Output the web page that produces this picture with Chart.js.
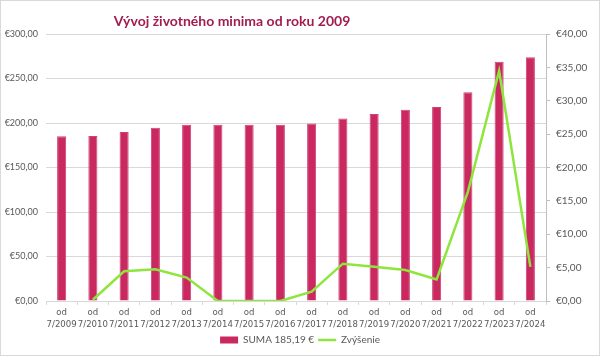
<!DOCTYPE html>
<html>
<head>
<meta charset="utf-8">
<script src="https://cdn.jsdelivr.net/npm/chart.js@4.4.1/dist/chart.umd.min.js"></script>
<style>
html,body{margin:0;padding:0;background:#fff;}
#wrap{width:600px;height:356px;box-sizing:border-box;border:1px solid #d9d9d9;position:relative;}
canvas{display:block;}
</style>
</head>
<body>
<div id="wrap"><canvas id="c" width="598" height="354"></canvas></div>
<script>
const titleText = 'Vývoj životného minima od roku 2009';
const categories = ['od|7/2009','od|7/2010','od|7/2011','od|7/2012','od|7/2013','od|7/2014','od|7/2015','od|7/2016','od|7/2017','od|7/2018','od|7/2019','od|7/2020','od|7/2021','od|7/2022','od|7/2023','od|7/2024'];
const sumaLabel = 'SUMA 185,19 €';
const sumaValues = [185.19,185.38,189.83,194.58,198.09,198.09,198.09,198.09,199.48,205.07,210.20,214.83,218.06,234.42,268.88,273.99];
const increaseLabel = 'Zvýšenie';
const increaseValues = [null,0.19,4.45,4.75,3.51,0,0,0,1.39,5.59,5.13,4.63,3.23,16.36,34.46,5.11];
const leftTicks = {min:0,max:300,step:50};
const rightTicks = {min:0,max:40,step:5};

const fmt = v => '€' + Number(v).toFixed(2).replace('.', ',');
const FONT = 'Lato, "Open Sans", sans-serif';
const COND = '"DejaVu Sans Condensed", Lato, sans-serif';
const TXT = '#595959';

const titlePlugin = {
  id:'customTitle',
  afterDraw(chart){
    const ctx = chart.ctx;
    ctx.save();
    ctx.font = 'bold 14px ' + FONT;
    ctx.fillStyle = '#a11d4e';
    ctx.textAlign = 'center';
    ctx.textBaseline = 'middle';
    ctx.fillText(titleText, 231, 20);
    ctx.restore();
  }
};

new Chart(document.getElementById('c'), {
  data: {
    labels: categories.map(c => c.split('|')),
    datasets: [
      {type:'bar', label:sumaLabel, data:sumaValues, yAxisID:'y', order:1,
       backgroundColor:'#c9295f', borderColor:'#d0407a', borderWidth:{left:1,right:1,top:1,bottom:0},
       barPercentage:0.58, categoryPercentage:0.5},
      {type:'line', label:increaseLabel, data:increaseValues, yAxisID:'y1', order:0,
       borderColor:'#8ee63c', backgroundColor:'#8ee63c', borderWidth:2.5, pointRadius:0, tension:0, spanGaps:false}
    ]
  },
  options: {
    responsive:false, animation:false,
    layout:{padding:{top:33,left:4,right:4,bottom:0}},
    plugins:{
      title:{display:false},
      tooltip:{enabled:false},
      legend:{
        position:'bottom',
        sort:(a,b)=>a.datasetIndex-b.datasetIndex,
        labels:{usePointStyle:true, pointStyleWidth:18, boxHeight:7, color:TXT, font:{family:FONT,size:10}, padding:4,
          generateLabels(chart){
            return chart.data.datasets.map((d,i)=>({
              text:d.label, datasetIndex:i,
              fillStyle:d.type==='bar'?'#c9295f':'#8ee63c',
              strokeStyle:d.type==='bar'?'#c9295f':'#8ee63c',
              lineWidth:d.type==='bar'?0:2.5,
              pointStyle:d.type==='bar'?'rect':'line',
              fontColor:TXT, hidden:false
            }));
          }
        }
      }
    },
    scales:{
      x:{
        grid:{offset:true, drawOnChartArea:false, drawTicks:true, tickLength:4, color:'#d9d9d9'},
        border:{display:true,color:'#d9d9d9'},
        ticks:{color:TXT, font:{family:COND,size:9.5,lineHeight:1.25}, maxRotation:0, autoSkip:false, padding:2},
        afterFit(s){ s.height = 30; }
      },
      y:{
        position:'left', min:leftTicks.min, max:leftTicks.max,
        ticks:{stepSize:leftTicks.step, callback:fmt, color:TXT, font:{family:FONT,size:9}, padding:8},
        grid:{color:'#d9d9d9', drawTicks:false},
        border:{display:false},
        afterFit(s){ s.width = 41; }
      },
      y1:{
        position:'right', min:rightTicks.min, max:rightTicks.max,
        ticks:{stepSize:rightTicks.step, callback:fmt, color:TXT, font:{family:FONT,size:10}, padding:6},
        grid:{drawOnChartArea:false, drawTicks:true, tickLength:4, color:'#bfbfbf'},
        border:{display:true,color:'#bfbfbf'},
        afterFit(s){ s.width = 49; }
      }
    }
  },
  plugins:[titlePlugin]
});
</script>
</body>
</html>
